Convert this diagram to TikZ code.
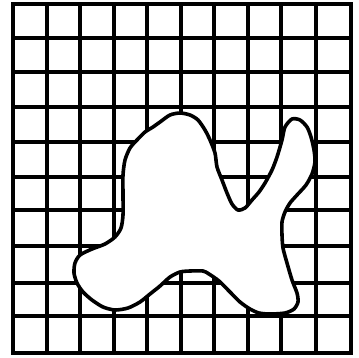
\documentclass[tikz,border=0pt]{standalone}
\begin{document}
\begin{tikzpicture}[x=1pt,y=-1pt,
  gridline/.style={line width=3.6pt,line cap=rect},
  blob/.style={line width=3.6pt,fill=white,line join=round}]
\useasboundingbox (0,0) rectangle (359,357);
\foreach \xx in {13,47,80,114,147,181,214,248,281,316,351}
  \draw[gridline] (\xx,4) -- (\xx,353);
\foreach \yy in {4,38,72,107,142,177,210,246,283,316,353}
  \draw[gridline] (13,\yy) -- (351,\yy);
\draw[blob] plot[smooth cycle,tension=0.45] coordinates {
 (170,115) (180,113) (190,115) (198,120) (205,130) (210,140) (215,153)
 (217,167) (222,180) (227,193) (232,204) (238,210) (245,208) (252,200)
 (259,192) (265,183) (272,170) (277,157) (282,140) (285,127) (292,119)
 (300,120) (307,127) (311,137) (314,150) (315,162) (312,174) (306,185)
 (297,195) (290,203) (285,212) (282,222) (282,235) (283,248) (287,263)
 (292,280) (297,293) (298,302) (294,309) (285,313) (270,314) (259,313)
 (250,309) (240,302) (230,292) (219,281) (209,274) (203,271) (190,271)
 (180,272) (170,277) (160,286) (150,294) (140,302) (128,308) (115,310)
 (103,307) (92,300) (83,292) (77,283) (74,273) (75,263) (80,255)
 (92,249) (105,244) (115,237) (121,228) (123,215) (123,195) (123,175)
 (125,160) (130,148) (137,140) (145,132) (153,127) (160,122)};
\end{tikzpicture}
\end{document}
